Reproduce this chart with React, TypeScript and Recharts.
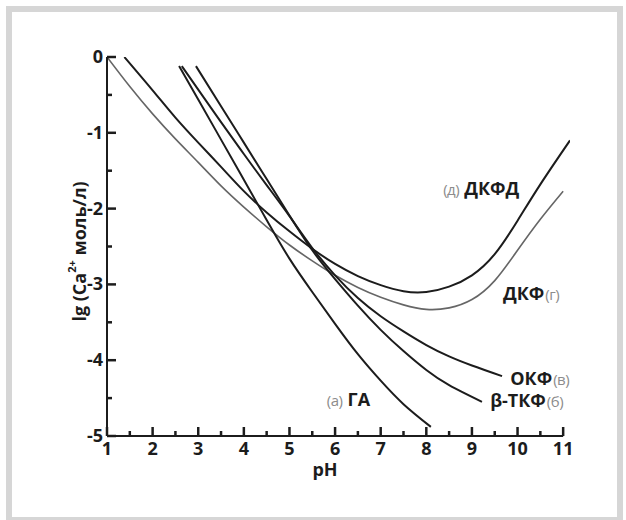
import React from 'react';
import { LineChart, Line, XAxis, YAxis, ReferenceLine, ReferenceDot } from 'recharts';

// pH values and lg[Ca2+]
const dkfPoints = [
  { ph: 1, lg: 0 }, { ph: 1.5, lg: -0.39 }, { ph: 2, lg: -0.75 }, { ph: 2.5, lg: -1.08 },
  { ph: 3, lg: -1.39 }, { ph: 3.5, lg: -1.7 }, { ph: 4, lg: -1.98 }, { ph: 4.5, lg: -2.24 },
  { ph: 5, lg: -2.48 }, { ph: 5.5, lg: -2.69 }, { ph: 6, lg: -2.88 }, { ph: 6.5, lg: -3.04 },
  { ph: 7, lg: -3.17 }, { ph: 7.5, lg: -3.27 }, { ph: 8, lg: -3.33 }, { ph: 8.5, lg: -3.31 },
  { ph: 9, lg: -3.2 }, { ph: 9.5, lg: -2.95 }, { ph: 10, lg: -2.55 }, { ph: 10.5, lg: -2.14 },
  { ph: 11, lg: -1.77 },
];

const dkfdPoints = [
  { ph: 1.38, lg: 0 }, { ph: 2, lg: -0.44 }, { ph: 2.5, lg: -0.8 }, { ph: 3, lg: -1.13 },
  { ph: 3.5, lg: -1.45 }, { ph: 4, lg: -1.77 }, { ph: 4.5, lg: -2.05 }, { ph: 5, lg: -2.3 },
  { ph: 5.5, lg: -2.53 }, { ph: 6, lg: -2.73 }, { ph: 6.5, lg: -2.89 }, { ph: 7, lg: -3.01 },
  { ph: 7.5, lg: -3.09 }, { ph: 8, lg: -3.1 }, { ph: 8.5, lg: -3.03 }, { ph: 9, lg: -2.88 },
  { ph: 9.5, lg: -2.6 }, { ph: 10, lg: -2.16 }, { ph: 10.5, lg: -1.68 }, { ph: 11.15, lg: -1.1 },
];

const gaPoints = [
  { ph: 2.58, lg: -0.12 }, { ph: 3, lg: -0.56 }, { ph: 3.5, lg: -1.09 }, { ph: 4, lg: -1.62 },
  { ph: 4.5, lg: -2.15 }, { ph: 5, lg: -2.66 }, { ph: 5.5, lg: -3.1 }, { ph: 6, lg: -3.52 },
  { ph: 6.5, lg: -3.92 }, { ph: 7, lg: -4.27 }, { ph: 7.5, lg: -4.58 }, { ph: 8.1, lg: -4.88 },
];

const okfPoints = [
  { ph: 2.64, lg: -0.12 }, { ph: 3, lg: -0.43 }, { ph: 3.5, lg: -0.86 }, { ph: 4, lg: -1.28 },
  { ph: 4.5, lg: -1.69 }, { ph: 5, lg: -2.1 }, { ph: 5.5, lg: -2.52 }, { ph: 6, lg: -2.88 },
  { ph: 6.5, lg: -3.18 }, { ph: 7, lg: -3.42 }, { ph: 7.5, lg: -3.62 }, { ph: 8, lg: -3.8 },
  { ph: 8.5, lg: -3.95 }, { ph: 9, lg: -4.07 }, { ph: 9.66, lg: -4.21 },
];

const btkfPoints = [
  { ph: 2.95, lg: -0.12 }, { ph: 3.5, lg: -0.65 }, { ph: 4, lg: -1.13 }, { ph: 4.5, lg: -1.61 },
  { ph: 5, lg: -2.09 }, { ph: 5.5, lg: -2.55 }, { ph: 6, lg: -2.93 }, { ph: 6.5, lg: -3.28 },
  { ph: 7, lg: -3.6 }, { ph: 7.5, lg: -3.88 }, { ph: 8, lg: -4.13 }, { ph: 8.5, lg: -4.33 },
  { ph: 9.22, lg: -4.55 },
];

const phTicks = [1, 1.5, 2, 2.5, 3, 3.5, 4, 4.5, 5, 5.5, 6, 6.5, 7, 7.5, 8, 8.5, 9, 9.5, 10, 10.5, 11];
const lgTicks = [0, -0.5, -1, -1.5, -2, -2.5, -3, -3.5, -4, -4.5, -5];

// curve names: grey letter in brackets + bold name
const curveLabels = [
  { ph: 8.37, lg: -1.82, pre: '(д)', name: 'ДКФД', post: '' },
  { ph: 9.68, lg: -3.21, pre: '', name: 'ДКФ', post: '(г)' },
  { ph: 9.84, lg: -4.33, pre: '', name: 'ОКФ', post: '(в)' },
  { ph: 9.4, lg: -4.62, pre: '', name: 'β-ТКФ', post: '(б)' },
  { ph: 5.82, lg: -4.6, pre: '(а)', name: 'ГА', post: '' },
];

const font = '"Open Sans", "Noto Sans", sans-serif';
const ink = '#1c1c1c';

// inward tick marks in px (major / minor)
const tickLen = (t: number) => (Number.isInteger(t) ? 9 : 5);

const XTick = (props: any) => {
  const { x, y, payload } = props;
  const major = Number.isInteger(payload.value);
  const len = tickLen(payload.value);
  return (
    <g>
      <line x1={x} y1={y} x2={x} y2={y - len} stroke={ink} strokeWidth={2.5} />
      {major && (
        <text x={x} y={y + 19} textAnchor="middle" fontFamily={font} fontWeight={700} fontSize={18} fill={ink}>
          {payload.value}
        </text>
      )}
    </g>
  );
};

const YTick = (props: any) => {
  const { x, y, payload } = props;
  const major = Number.isInteger(payload.value);
  const len = tickLen(payload.value);
  return (
    <g>
      <line x1={x} y1={y} x2={x + len} y2={y} stroke={ink} strokeWidth={2.5} />
      {major && (
        <text x={x - 4} y={y + 6} textAnchor="end" fontFamily={font} fontWeight={700} fontSize={18} fill={ink}>
          {payload.value}
        </text>
      )}
    </g>
  );
};

const YTitle = (props: any) => {
  const vb = props.viewBox;
  const cx = vb.x + 32;
  const cy = vb.y + vb.height / 2 + 5;
  return (
    <text
      transform={`translate(${cx},${cy}) rotate(-90)`}
      textAnchor="middle"
      dominantBaseline="central"
      fontFamily={font}
      fontWeight={700}
      fontSize={18}
      fill={ink}
    >
      lg (Ca<tspan baselineShift="super" fontSize={11}>2+</tspan> моль/л)
    </text>
  );
};

const XTitle = (props: any) => {
  const vb = props.viewBox;
  return (
    <text x={vb.x + 218} y={vb.y + 40} textAnchor="middle" fontFamily={font} fontWeight={700} fontSize={18} fill={ink}>
      pH
    </text>
  );
};

const CurveLabel = (item: (typeof curveLabels)[number]) => (props: any) => (
  <text x={props.cx} y={props.cy} fontFamily={font}>
    {item.pre && (
      <tspan fill="#8c8c8c" fontSize={15} fontWeight={400} letterSpacing={-0.5}>
        {item.pre}
      </tspan>
    )}
    <tspan dx={item.pre ? 5 : 0} fill={ink} fontSize={18} fontWeight={700}>
      {item.name}
    </tspan>
    {item.post && (
      <tspan dx={1} fill="#8c8c8c" fontSize={15} fontWeight={400} letterSpacing={-0.5}>
        {item.post}
      </tspan>
    )}
  </text>
);

const App = () => {
  return (
    <div style={{ position: 'absolute', left: 0, top: 0, width: 626, height: 520, overflow: 'hidden', background: '#fff' }}>
      <div
        style={{
          position: 'absolute',
          left: 6,
          top: 6,
          width: 617,
          height: 517,
          border: '6px solid #d6d6d6',
          boxSizing: 'border-box',
        }}
      />
      <div style={{ position: 'absolute', left: 0, top: 0 }}>
        <LineChart width={626} height={520} margin={{ top: 57, right: 56, bottom: 0, left: 47 }}>
          <XAxis
            dataKey="ph"
            type="number"
            domain={[1, 11.15]}
            ticks={phTicks}
            interval={0}
            allowDataOverflow
            axisLine={false}
            tickLine={false}
            tickSize={0}
            tickMargin={0}
            height={84}
            tick={<XTick />}
            label={{ content: (p: any) => <XTitle {...p} /> }}
          />
          <YAxis
            dataKey="lg"
            type="number"
            domain={[-5, 0]}
            ticks={lgTicks}
            interval={0}
            allowDataOverflow
            axisLine={{ stroke: ink, strokeWidth: 2 }}
            tickLine={false}
            tickSize={0}
            tickMargin={0}
            width={60}
            tick={<YTick />}
            label={{ content: (p: any) => <YTitle {...p} /> }}
          />
          <ReferenceLine segment={[{ x: 1, y: -5 }, { x: 11, y: -5 }]} stroke={ink} strokeWidth={2} />
          <Line data={dkfPoints} dataKey="lg" type="natural" stroke="#666" strokeWidth={1.6} dot={false} isAnimationActive={false} />
          <Line data={dkfdPoints} dataKey="lg" type="natural" stroke={ink} strokeWidth={2} dot={false} isAnimationActive={false} />
          <Line data={gaPoints} dataKey="lg" type="natural" stroke={ink} strokeWidth={2} dot={false} isAnimationActive={false} />
          <Line data={okfPoints} dataKey="lg" type="natural" stroke={ink} strokeWidth={2} dot={false} isAnimationActive={false} />
          <Line data={btkfPoints} dataKey="lg" type="natural" stroke={ink} strokeWidth={2} dot={false} isAnimationActive={false} />
          {curveLabels.map((c) => (
            <ReferenceDot key={c.name} x={c.ph} y={c.lg} r={0} ifOverflow="visible" shape={CurveLabel(c)} />
          ))}
        </LineChart>
      </div>
    </div>
  );
};

export default App;
